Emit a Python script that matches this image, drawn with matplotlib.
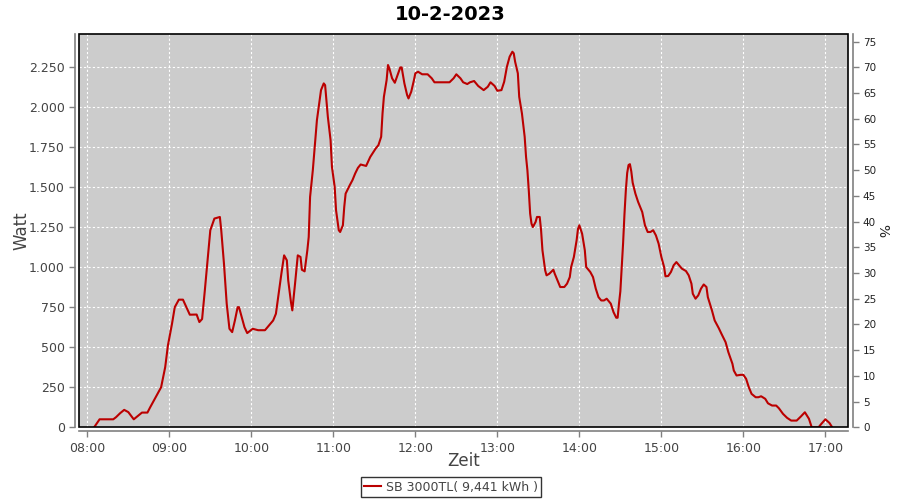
import pandas as pd
import matplotlib
matplotlib.use("Agg")
import matplotlib.pyplot as plt
import matplotlib.dates as mdates
from matplotlib.patches import Rectangle
from matplotlib.ticker import FuncFormatter, MultipleLocator

day = "2023-02-10"
title = "10-2-2023"
series_name = "SB 3000TL( 9,441 kWh )"

times = [
    "08:05", "08:09", "08:15", "08:19", "08:21", "08:24", "08:27", "08:30", "08:34", "08:40",
    "08:44", "08:46", "08:50", "08:52", "08:54", "08:57", "08:59", "09:02", "09:04", "09:07",
    "09:10", "09:13", "09:15", "09:20", "09:22", "09:24", "09:26", "09:28", "09:30", "09:33",
    "09:37", "09:38", "09:40", "09:42", "09:44", "09:46", "09:48", "09:50", "09:51", "09:55",
    "09:57", "10:01", "10:05", "10:10", "10:16", "10:18", "10:20", "10:22", "10:24", "10:26",
    "10:27", "10:29", "10:30", "10:32", "10:34", "10:36", "10:37", "10:39", "10:41", "10:42",
    "10:43", "10:45", "10:47", "10:48", "10:50", "10:51", "10:53", "10:54", "10:56", "10:58",
    "10:59", "11:01", "11:02", "11:04", "11:05", "11:07", "11:08", "11:09", "11:12", "11:14",
    "11:16", "11:18", "11:20", "11:24", "11:27", "11:31", "11:33", "11:35", "11:36", "11:37",
    "11:39", "11:40", "11:41", "11:43", "11:45", "11:47", "11:49", "11:50", "11:52", "11:54",
    "11:55", "11:57", "11:59", "12:00", "12:02", "12:05", "12:09", "12:12", "12:14", "12:25",
    "12:28", "12:30", "12:33", "12:35", "12:38", "12:40", "12:43", "12:46", "12:50", "12:53",
    "12:55", "12:58", "13:00", "13:03", "13:05", "13:07", "13:09", "13:11", "13:12", "13:13",
    "13:15", "13:16", "13:18", "13:20", "13:21", "13:22", "13:23", "13:24", "13:25", "13:26",
    "13:28", "13:29", "13:31", "13:32", "13:33", "13:35", "13:36", "13:38", "13:41", "13:42",
    "13:44", "13:46", "13:49", "13:51", "13:53", "13:54", "13:56", "13:58", "13:59", "14:00",
    "14:02", "14:04", "14:05", "14:08", "14:10", "14:12", "14:14", "14:16", "14:18", "14:20",
    "14:23", "14:25", "14:27", "14:28", "14:29", "14:30", "14:31", "14:32", "14:33", "14:34",
    "14:35", "14:36", "14:37", "14:38", "14:39", "14:41", "14:43", "14:46", "14:48", "14:50",
    "14:52", "14:54", "14:56", "14:58", "15:00", "15:02", "15:03", "15:05", "15:07", "15:09",
    "15:11", "15:12", "15:15", "15:18", "15:20", "15:22", "15:23", "15:25", "15:27", "15:29",
    "15:31", "15:33", "15:34", "15:37", "15:39", "15:42", "15:44", "15:47", "15:49", "15:52",
    "15:53", "15:55", "15:58", "16:00", "16:02", "16:04", "16:06", "16:09", "16:11", "16:13",
    "16:16", "16:18", "16:21", "16:24", "16:26", "16:29", "16:32", "16:35", "16:39", "16:42",
    "16:45", "16:48", "16:50", "16:55", "16:57", "17:00", "17:03", "17:05",
]

watt = [
    0, 50, 50, 50, 63, 88, 109, 95, 50, 92,
    92, 125, 188, 219, 250, 376, 512, 648, 751, 798,
    798, 741, 704, 705, 658, 677, 856, 1044, 1232, 1305,
    1315, 1232, 1023, 773, 616, 595, 668, 751, 751, 626,
    589, 616, 607, 607, 668, 710, 835, 960, 1075, 1044,
    919, 783, 731, 898, 1075, 1065, 985, 975, 1107, 1190,
    1440, 1607, 1816, 1920, 2045, 2108, 2150, 2139, 1941, 1795,
    1628, 1503, 1357, 1232, 1221, 1263, 1378, 1461, 1513, 1545,
    1587, 1622, 1643, 1634, 1690, 1743, 1764, 1816, 1962, 2066,
    2171, 2265, 2244, 2182, 2154, 2202, 2250, 2250, 2150, 2077,
    2056, 2098, 2171, 2213, 2223, 2207, 2207, 2182, 2157, 2157,
    2182, 2207, 2182, 2157, 2146, 2157, 2165, 2134, 2108, 2129,
    2157, 2134, 2104, 2108, 2160, 2254, 2317, 2348, 2338, 2286,
    2213, 2066, 1962, 1816, 1691, 1607, 1482, 1336, 1273, 1252,
    1284, 1315, 1315, 1232, 1107, 981, 950, 960, 985, 960,
    919, 877, 877, 898, 939, 1002, 1065, 1169, 1240, 1263,
    1211, 1107, 1002, 971, 939, 867, 814, 793, 793, 804,
    773, 720, 685, 685, 773, 850, 1000, 1150, 1330, 1480,
    1590, 1640, 1645, 1600, 1530, 1461, 1409, 1346, 1263, 1221,
    1221, 1232, 1200, 1148, 1065, 1002, 944, 946, 971, 1013,
    1033, 1023, 992, 977, 950, 898, 835, 804, 825, 867,
    893, 877, 814, 731, 668, 620, 584, 532, 470, 397,
    355, 324, 328, 328, 303, 250, 209, 188, 188, 194,
    178, 150, 136, 136, 119, 84, 59, 42, 42, 67,
    94, 53, 0, 0, 21, 50, 27, 0,
]

pct_ticks = list(range(0, 80, 5))

x = pd.to_datetime([day + " " + t for t in times])

grey_txt = "#444444"
fig = plt.figure(figsize=(9, 5), dpi=100)
ax = fig.add_axes([0.0881, 0.1454, 0.8545, 0.786])
ax.set_facecolor("#cccccc")

ax.plot(x, watt, color="#bb0000", linewidth=1.5, label=series_name, zorder=3)

ax.set_xlim(pd.Timestamp(day + " 07:54:09"), pd.Timestamp(day + " 17:16:48"))
ax.set_ylim(0, 2457)
ax.yaxis.set_major_locator(MultipleLocator(250))
ax.yaxis.set_major_formatter(FuncFormatter(lambda v, p: f"{int(v):,}".replace(",", ".")))
ax.xaxis.set_major_locator(mdates.HourLocator())
ax.xaxis.set_major_formatter(mdates.DateFormatter("%H:%M"))

ax.grid(True, color="white", linestyle=(0, (2, 2)), linewidth=0.8)
ax.set_axisbelow(True)

ax2 = ax.twinx()
ax2.set_ylim(0, 76.4)
ax2.set_yticks(pct_ticks)

for a in (ax, ax2):
    for s in a.spines.values():
        s.set_visible(False)
ax.spines["left"].set_visible(True)
ax.spines["bottom"].set_visible(True)
ax2.spines["right"].set_visible(True)
for a, side in ((ax, "left"), (ax, "bottom"), (ax2, "right")):
    a.spines[side].set_position(("outward", 3))
    a.spines[side].set_color("#808080")
    a.spines[side].set_linewidth(1.2)

ax.tick_params(axis="both", colors="#808080", labelcolor=grey_txt, labelsize=9, length=4, width=1)
ax2.tick_params(axis="y", colors="#808080", labelcolor="#222222", labelsize=7.5, length=4, width=1)

ax.add_patch(Rectangle((0, 0), 1, 1, transform=ax.transAxes, fill=False,
                       edgecolor="black", linewidth=1.2, zorder=5, clip_on=False))

ax.set_ylabel("Watt", fontsize=12, color=grey_txt)
ax.yaxis.set_label_coords(-0.063, 0.5)
ax.set_xlabel("Zeit", fontsize=12, color=grey_txt)
ax.xaxis.set_label_coords(0.5, -0.063)
ax2.set_ylabel("%", fontsize=10, color="#222222", rotation=270, va="center")
ax2.yaxis.set_label_coords(1.0445, 0.5)

fig.suptitle(title, fontsize=14, fontweight="bold", y=0.99)

leg = fig.legend(loc="center", bbox_to_anchor=(0.501, 0.026), fancybox=False,
                 edgecolor="black", fontsize=9, handlelength=1.3, handletextpad=0.4,
                 borderpad=0.25, borderaxespad=0)
leg.get_frame().set_linewidth(1)
for t in leg.get_texts():
    t.set_color(grey_txt)

fig.savefig("out.png", dpi=100)
